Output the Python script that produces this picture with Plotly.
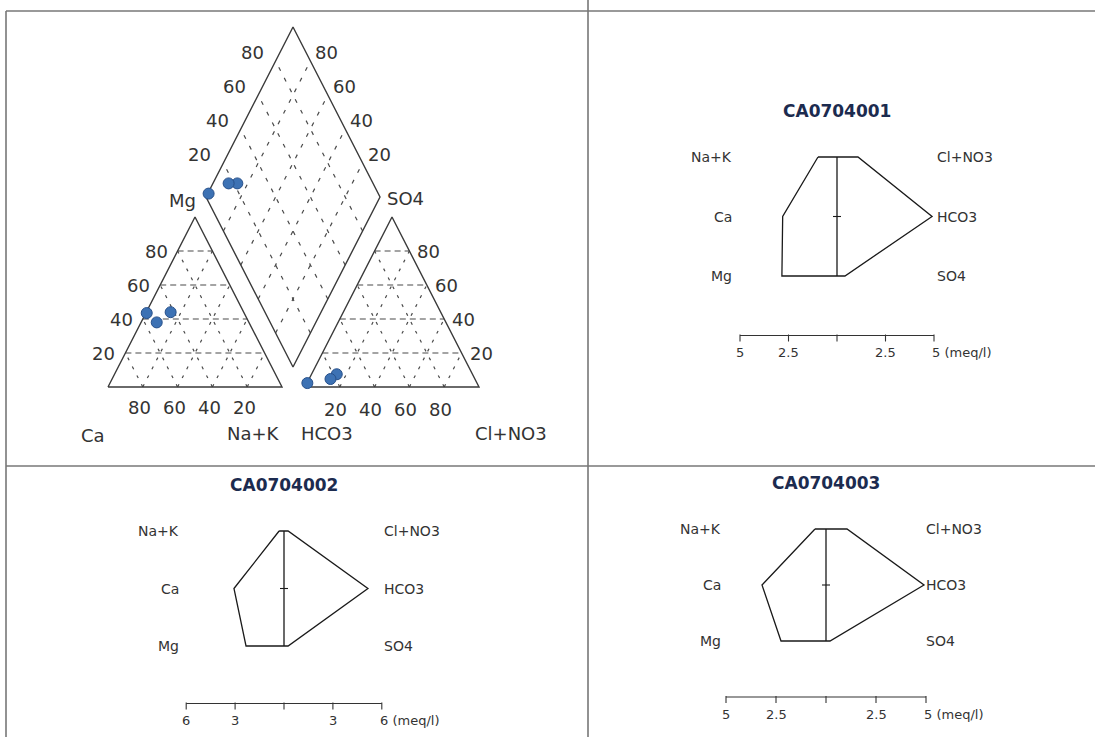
import plotly.graph_objects as go

W, H = 1095, 737

# ---------------- data ----------------
samples = ["CA0704001", "CA0704002", "CA0704003"]
# Piper percentages (meq %)
cat_ca = [42.0, 56.0, 53.0]
cat_mg = [44.0, 43.5, 38.0]
cat_nak = [14.0, 0.5, 9.0]
an_hco3 = [78.0, 97.5, 83.0]
an_so4 = [7.5, 2.3, 4.7]
an_cl = [14.5, 0.2, 12.3]
piper_ticks = [20, 40, 60, 80]

# Stiff values (meq/l)
stiff_nak = [0.98, 0.30, 0.55]
stiff_ca = [2.80, 3.07, 3.20]
stiff_mg = [2.84, 2.33, 2.25]
stiff_cl = [1.08, 0.25, 1.05]
stiff_hco3 = [4.90, 5.15, 4.90]
stiff_so4 = [0.41, 0.25, 0.20]
stiff_scale_max = [5, 6, 5]
stiff_scale_labels = [["5", "2.5", "", "2.5", "5 (meq/l)"],
                      ["6", "3", "", "3", "6 (meq/l)"],
                      ["5", "2.5", "", "2.5", "5 (meq/l)"]]
cation_labels = ["Na+K", "Ca", "Mg"]
anion_labels = ["Cl+NO3", "HCO3", "SO4"]

FONT = "DejaVu Sans"
TXT = "#333333"
FRAME = "#3a3a3a"
GRID = "#4a4a4a"
BORDER = "#777777"

fig = go.Figure()


def add_line(xs, ys, color=FRAME, width=1.4, dash="solid", xa="x", ya="y"):
    fig.add_trace(go.Scatter(x=xs, y=ys, mode="lines", xaxis=xa, yaxis=ya,
                             line=dict(color=color, width=width, dash=dash),
                             hoverinfo="skip", showlegend=False))


# ---------------- Piper geometry (panel units = pixels) ----------------
S, HT = 174.0, 170.0          # triangle side (x extent) and height
X0, Y0 = 108.0, 387.0         # left triangle base-left corner
GAP = 23.0
XR = X0 + S + GAP             # right triangle base-left corner
BX, BY = 293.0, 367.0         # diamond bottom vertex
LX, LY = BX - S / 2, BY - HT
RX, RY = BX + S / 2, BY - HT
TX, TY = BX, BY - 2 * HT


def cat_xy(ca, mg, nak):
    return X0 + S * nak / 100 + S / 2 * mg / 100, Y0 - HT * mg / 100


def an_xy(hco3, so4, cl):
    return XR + S * cl / 100 + S / 2 * so4 / 100, Y0 - HT * so4 / 100


def dia_xy(ca, mg, so4, cl):
    a = (ca + mg) / 100
    b = (so4 + cl) / 100
    return BX - S / 2 * a + S / 2 * b, BY - HT * (a + b)


# grid lines
for k in piper_ticks:
    f = k / 100
    # left triangle
    add_line([X0 + S / 2 * f, X0 + S - S / 2 * f], [Y0 - HT * f] * 2, GRID, 1.2, "6px,4px")
    add_line([X0 + S * (1 - f), X0 + S / 2 * (1 - f)], [Y0, Y0 - HT * (1 - f)], GRID, 1.2, "3px,7px")
    add_line([X0 + S * f, X0 + S * f + S / 2 * (1 - f)], [Y0, Y0 - HT * (1 - f)], GRID, 1.2, "3px,7px")
    # right triangle
    add_line([XR + S / 2 * f, XR + S - S / 2 * f], [Y0 - HT * f] * 2, GRID, 1.2, "6px,4px")
    add_line([XR + S * (1 - f), XR + S / 2 * (1 - f)], [Y0, Y0 - HT * (1 - f)], GRID, 1.2, "3px,7px")
    add_line([XR + S * f, XR + S * f + S / 2 * (1 - f)], [Y0, Y0 - HT * (1 - f)], GRID, 1.2, "3px,7px")
    # diamond
    sx, sy = BX + (RX - BX) * f, BY + (RY - BY) * f
    add_line([sx, sx + (LX - BX)], [sy, sy + (LY - BY)], GRID, 1.2, "4px,8px")
    sx, sy = BX + (LX - BX) * f, BY + (LY - BY) * f
    add_line([sx, sx + (RX - BX)], [sy, sy + (RY - BY)], GRID, 1.2, "4px,8px")

# frames
add_line([X0, X0 + S, X0 + S / 2, X0], [Y0, Y0, Y0 - HT, Y0])
add_line([XR, XR + S, XR + S / 2, XR], [Y0, Y0, Y0 - HT, Y0])
add_line([BX, LX, TX, RX, BX], [BY, LY, TY, RY, BY])

# sample points
px, py = [], []
for i in range(len(samples)):
    x, y = cat_xy(cat_ca[i], cat_mg[i], cat_nak[i]); px.append(x); py.append(y)
    x, y = an_xy(an_hco3[i], an_so4[i], an_cl[i]); px.append(x); py.append(y)
    x, y = dia_xy(cat_ca[i], cat_mg[i], an_so4[i], an_cl[i]); px.append(x); py.append(y)
fig.add_trace(go.Scatter(x=px, y=py, mode="markers", xaxis="x", yaxis="y",
                         marker=dict(size=11, color="#3d72b4", line=dict(color="#27508a", width=1)),
                         hoverinfo="skip", showlegend=False))

ann = []


def txt(x, y, t, xa="x", ya="y", size=18, xanchor="center", yanchor="middle", color=TXT,
        xshift=0, yshift=0, family=FONT):
    ann.append(dict(x=x, y=y, xref=xa, yref=ya, text=t, showarrow=False,
                    xanchor=xanchor, yanchor=yanchor, xshift=xshift, yshift=yshift,
                    font=dict(family=family, size=size, color=color)))


for k in piper_ticks:
    f = k / 100
    # left triangle: Mg on left edge, Ca along base
    txt(X0 + S / 2 * f - 8, Y0 - HT * f, str(k), xanchor="right")
    txt(X0 + S * (1 - f) - 3, Y0 + 20, str(k))
    # right triangle: SO4 on right edge, Cl along base
    txt(XR + S - S / 2 * f + 6, Y0 - HT * f, str(k), xanchor="left")
    txt(XR + S * f - 4, Y0 + 22, str(k))
    # diamond edges
    txt(LX + (TX - LX) * f - 10, LY + (TY - LY) * f - 9, str(k), xanchor="right")
    txt(RX + (TX - RX) * f + 3, RY + (TY - RY) * f - 9, str(k), xanchor="left")

txt(LX - 8, LY + 3, "Mg", xanchor="right")
txt(RX + 5, RY + 1, "SO4", xanchor="left")
txt(X0 - 15, Y0 + 48, "Ca")
txt(X0 + S - 29, Y0 + 46, "Na+K")
txt(XR + 22, Y0 + 46, "HCO3")
txt(XR + S + 32, Y0 + 46, "Cl+NO3")

# ---------------- Stiff diagrams ----------------
# panel boxes (px): left, right, top, bottom, centre x, px per meq, first row y, row spacing
panels = [
    (588, 1095, 11, 466, 837, 19.4, 157, 59.5),
    (6, 588, 466, 737, 284, 16.3, 531, 57.5),
    (588, 1095, 466, 737, 826, 20.0, 529, 56.0),
]

layout_axes = {}
for i, (pl, pr, pt, pb, cx, ppm, r0, sp) in enumerate(panels):
    n = i + 2
    xa, ya = f"x{n}", f"y{n}"
    layout_axes[f"xaxis{n}"] = dict(domain=[pl / W, pr / W], range=[(pl - cx) / ppm, (pr - cx) / ppm],
                                     visible=False, fixedrange=True, anchor=ya)
    layout_axes[f"yaxis{n}"] = dict(domain=[1 - pb / H, 1 - pt / H], range=[(pb - r0) / sp, (pt - r0) / sp],
                                     visible=False, fixedrange=True, anchor=xa)
    xs = [-stiff_nak[i], -stiff_ca[i], -stiff_mg[i], stiff_so4[i], stiff_hco3[i], stiff_cl[i], -stiff_nak[i]]
    ys = [0, 1, 2, 2, 1, 0, 0]
    add_line(xs, ys, "#1a1a1a", 1.3, xa=xa, ya=ya)
    add_line([0, 0], [0, 2], "#1a1a1a", 1.3, xa=xa, ya=ya)
    add_line([-4 / ppm, 4 / ppm], [1, 1], "#1a1a1a", 1.1, xa=xa, ya=ya)
    # scale bar
    M = stiff_scale_max[i]
    add_line([-M, M], [3, 3], "#333333", 1.2, xa=xa, ya=ya)
    tv = [-M, -M / 2, 0, M / 2, M]
    tx, ty = [], []
    for v in tv:
        tx += [v, v, None]
        ty += [3 - 1 / sp, 3 + 6 / sp, None]
    add_line(tx, ty, "#333333", 1.1, xa=xa, ya=ya)
    for j, v in enumerate(tv):
        lab = stiff_scale_labels[i][j]
        if not lab:
            continue
        if j == len(tv) - 1:
            txt(v, 3, lab, xa, ya, size=13, xanchor="left", xshift=-4, yshift=-17)
        else:
            txt(v, 3, lab, xa, ya, size=13, yshift=-17)
    # title and ion labels
    txt(0, 0, "<b>" + samples[i] + "</b>", xa, ya, size=17, color="#1c2b4f", yshift=46)
    for r in range(3):
        txt(0, r, cation_labels[r], xa, ya, size=14, xanchor="right", xshift=-103)
        txt(0, r, anion_labels[r], xa, ya, size=14, xanchor="left", xshift=98)

# panel borders
shapes = []


def pline(x1, y1, x2, y2):
    shapes.append(dict(type="line", xref="paper", yref="paper",
                       x0=x1 / W, y0=1 - y1 / H, x1=x2 / W, y1=1 - y2 / H,
                       line=dict(color=BORDER, width=1.6)))


pline(6, 11, 1095, 11)
pline(6, 11, 6, 737)
pline(588, 0, 588, 737)
pline(6, 466, 1095, 466)

fig.update_layout(
    width=W, height=H, margin=dict(l=0, r=0, t=0, b=0),
    paper_bgcolor="white", plot_bgcolor="rgba(0,0,0,0)", showlegend=False,
    xaxis=dict(domain=[0, 588 / W], range=[0, 588], visible=False, fixedrange=True),
    yaxis=dict(domain=[1 - 466 / H, 1], range=[466, 0], visible=False, fixedrange=True),
    annotations=ann, shapes=shapes, **layout_axes)

fig.write_html("out.html", config={"displayModeBar": False},
               post_script="document.body.style.margin='0';document.body.style.overflow='hidden';")
